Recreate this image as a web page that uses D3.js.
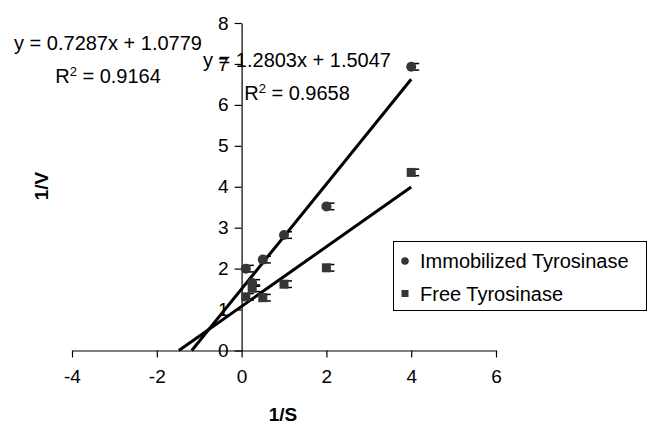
<!DOCTYPE html>
<html><head><meta charset="utf-8">
<script src="https://cdn.jsdelivr.net/npm/d3@7"></script>
<style>
html,body{margin:0;padding:0;background:#fff;}
svg{display:block;font-family:"Liberation Sans",Arial,sans-serif;}
</style></head>
<body><svg id="c" width="649" height="426"></svg>
<script>
// ---- data ----
const seriesNames = ["Immobilized Tyrosinase", "Free Tyrosinase"];
const immX = [0.1, 0.25, 0.5, 1, 2, 4];
const immY = [2.0, 1.65, 2.22, 2.82, 3.52, 6.93];
const freeX = [0.1, 0.25, 0.5, 1, 2, 4];
const freeY = [1.31, 1.52, 1.29, 1.62, 2.02, 4.35];
const errImm = [0.08, 0.08, 0.08, 0.08, 0.08, 0.08];
const errFree = [0.08, 0.08, 0.08, 0.08, 0.08, 0.08];
const fitSlope = [1.2803, 0.7287];
const fitIntercept = [1.5047, 1.0779];
const eqText = ["y = 1.2803x + 1.5047", "y = 0.7287x + 1.0779"];
const r2Text = ["0.9658", "0.9164"];
const xTicks = [-4, -2, 0, 2, 4, 6];
const yTicks = [0, 1, 2, 3, 4, 5, 6, 7, 8];

const svg = d3.select("#c");
const x = d3.scaleLinear().domain([-4, 6]).range([72, 496]);
const y = d3.scaleLinear().domain([0, 8]).range([350.5, 23]);
const ink = "#000";
const markFill = "#363636";

// axes
const xAxis = svg.append("g").attr("transform", `translate(0,${y(0)})`)
  .call(d3.axisBottom(x).tickValues(xTicks).tickSizeInner(7).tickSizeOuter(0).tickPadding(12).tickFormat(d3.format("d")));
const yAxis = svg.append("g").attr("transform", `translate(${x(0)},0)`)
  .call(d3.axisLeft(y).tickValues(yTicks).tickSizeInner(7).tickSizeOuter(0).tickPadding(6).tickFormat(d3.format("d")));
[xAxis, yAxis].forEach(a => {
  a.selectAll("path,line").attr("stroke", ink).attr("stroke-width", 1.2);
  a.selectAll("text").attr("fill", ink).style("font-size", "19px").style("font-family", '"Liberation Sans",Arial,sans-serif');
});
xAxis.selectAll("text").text(d => d < 0 ? "-" + Math.abs(d) : d);

// axis titles
svg.append("text").attr("x", 283).attr("y", 421).attr("text-anchor", "middle")
  .style("font-size", "19px").style("font-weight", "bold").text("1/S");
svg.append("text").attr("transform", "translate(48,186) rotate(-90)").attr("text-anchor", "middle")
  .style("font-size", "19px").style("font-weight", "bold").text("1/V");

// trendlines
fitSlope.forEach((m, i) => {
  const b = fitIntercept[i];
  const x0 = -b / m, x1 = 4;
  svg.append("line").attr("x1", x(x0)).attr("y1", y(0)).attr("x2", x(x1)).attr("y2", y(m * x1 + b))
    .attr("stroke", ink).attr("stroke-width", 3);
});

// error bars + markers
function drawSeries(xs, ys, errs, shape) {
  const g = svg.append("g");
  xs.forEach((xv, i) => {
    const cx = x(xv), cy = y(ys[i]);
    const top = y(ys[i] + errs[i]), bot = y(ys[i] - errs[i]);
    g.append("line").attr("x1", cx).attr("x2", cx).attr("y1", top).attr("y2", bot).attr("stroke", ink).attr("stroke-width", 1.2);
    [top, bot].forEach(yy => g.append("line").attr("x1", cx).attr("x2", cx + 8).attr("y1", yy).attr("y2", yy).attr("stroke", ink).attr("stroke-width", 1.5));
    if (shape === "circle") g.append("circle").attr("cx", cx).attr("cy", cy).attr("r", 5).attr("fill", markFill);
    else g.append("rect").attr("x", cx - 4.5).attr("y", cy - 4.5).attr("width", 9).attr("height", 9).attr("fill", markFill);
  });
}
drawSeries(freeX, freeY, errFree, "square");
drawSeries(immX, immY, errImm, "circle");

// equation labels
function eq(cx, y1, y2, i) {
  svg.append("text").attr("x", cx).attr("y", y1).attr("text-anchor", "middle").style("font-size", "20px").text(eqText[i]);
  const t = svg.append("text").attr("x", cx).attr("y", y2).attr("text-anchor", "middle").style("font-size", "20px");
  t.append("tspan").text("R");
  t.append("tspan").attr("baseline-shift", "super").style("font-size", "13px").text("2");
  t.append("tspan").text(" = " + r2Text[i]);
}
eq(108, 50, 83, 1);
eq(297, 67, 100, 0);

// legend
const lg = svg.append("g");
lg.append("rect").attr("x", 393.5).attr("y", 241.5).attr("width", 253).attr("height", 69)
  .attr("fill", "#fff").attr("stroke", ink).attr("stroke-width", 1);
lg.append("circle").attr("cx", 405).attr("cy", 261).attr("r", 3.8).attr("fill", markFill);
lg.append("rect").attr("x", 401.5).attr("y", 290).attr("width", 7).attr("height", 7).attr("fill", markFill);
lg.append("text").attr("x", 420).attr("y", 268).style("font-size", "20px").text(seriesNames[0]);
lg.append("text").attr("x", 420).attr("y", 301).style("font-size", "20px").text(seriesNames[1]);
</script></body></html>
